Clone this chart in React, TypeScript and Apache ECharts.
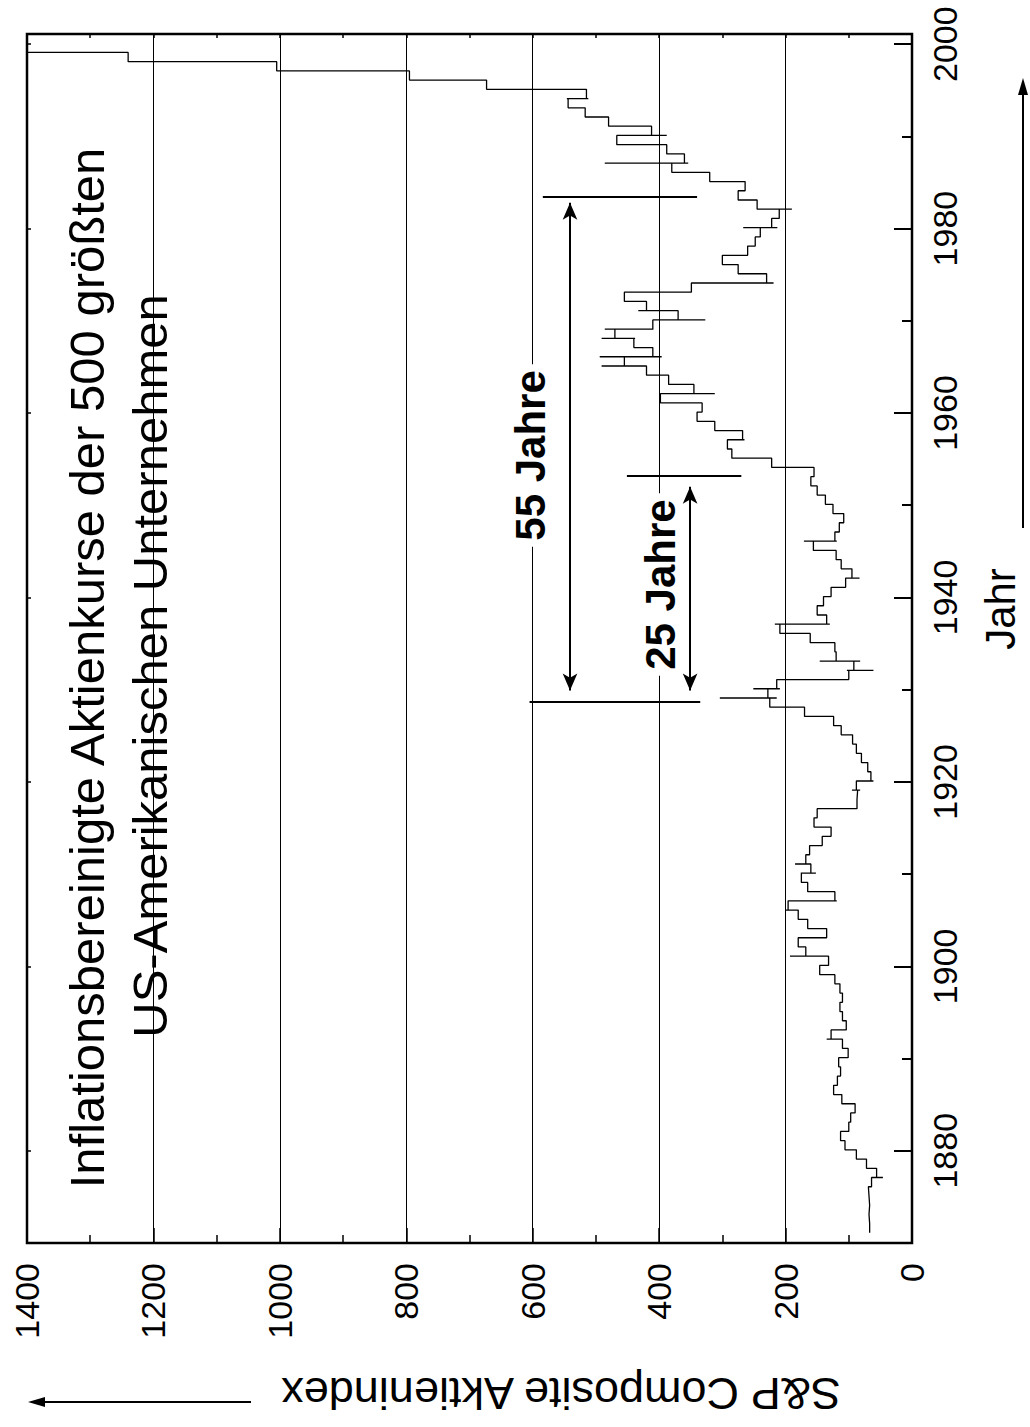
import React, { useEffect, useRef } from "react";
import * as echarts from "echarts";

const FONT = "'Liberation Sans', Arial, Helvetica, sans-serif";

// Inflation-adjusted S&P composite, one level per year (1871 … 1999)
const FIRST_YEAR = 1871;
const realIndex = [
  67, 68, 67, 68, 69, 64, 56, 72, 88, 106, // 1871-1880
  113, 100, 97, 90, 111, 124, 118, 113, 116, 101, // 1881-1890
  110, 128, 104, 110, 114, 110, 114, 122, 146, 132, // 1891-1900
  168, 180, 135, 165, 180, 196, 122, 165, 175, 160, // 1901-1910
  168, 162, 142, 128, 155, 150, 87, 86, 88, 65, // 1911-1920
  70, 80, 88, 94, 112, 124, 170, 225, 228, 214, // 1921-1930
  100, 92, 120, 122, 161, 209, 135, 150, 140, 128, // 1931-1940
  105, 95, 112, 120, 156, 122, 115, 108, 125, 137, // 1941-1950
  150, 160, 155, 222, 285, 292, 268, 312, 340, 332, // 1951-1960
  398, 345, 385, 420, 455, 410, 440, 470, 410, 370, // 1961-1970
  420, 455, 349, 230, 275, 300, 260, 248, 240, 222, // 1971-1980
  210, 245, 275, 264, 320, 380, 360, 388, 467, 412, // 1981-1990
  480, 517, 544, 515, 673, 795, 1005, 1240, 1420, // 1991-1999
];

// yearly extreme swings (short horizontal strokes)
const spikeYears = [1877, 1892, 1901, 1906, 1907, 1910, 1911, 1919, 1920, 1929, 1930, 1932, 1933, 1937, 1942, 1946, 1957, 1962, 1965, 1966, 1968, 1969, 1970, 1971, 1974, 1980, 1982, 1987, 1990, 1994];
const spikeLow = [46, 124, 165, 188, 119, 152, 159, 82, 61, 214, 209, 61, 82, 130, 83, 119, 265, 312, 454, 396, 438, 409, 327, 383, 219, 213, 190, 354, 388, 512];
const spikeHigh = [58, 135, 193, 200, 185, 176, 185, 95, 82, 304, 251, 103, 146, 217, 104, 171, 289, 349, 491, 494, 491, 486, 410, 433, 349, 267, 240, 486, 467, 546];

// axes
const VALUE_MIN = 0;
const VALUE_MAX = 1400;
const VALUE_STEP = 200;
const YEAR_MIN = 1870;
const YEAR_MAX = 2001.1;
const yearLabelTicks = [1880, 1900, 1920, 1940, 1960, 1980, 2000];
const yearMinorTicks = [1890, 1910, 1930, 1950, 1970, 1990];

// period annotations
const periodLineYears = [1983.5, 1953.2, 1928.7];
const periodLineFrom = [340, 270, 335];
const periodLineTo = [584, 451, 605];
const arrowValues = [541, 351];
const arrowStart = [1929.9, 1929.9];
const arrowEnd = [1982.8, 1952.0];
const periodLabels = ["55 Jahre", "25 Jahre"];
const periodLabelValues = [604, 398];
const periodLabelYears = [1955.4, 1941.4];

const titleLines = [
  "Inflationsbereinigte Aktienkurse der 500 größten",
  "US-Amerikanischen Unternehmen",
];
const valueAxisName = "S&P Composite Aktienindex";
const yearAxisName = "Jahr";

function buildPath(): number[][] {
  const pts: number[][] = [];
  realIndex.forEach((v, i) => {
    const t = FIRST_YEAR + i + 0.1;
    if (i === 0) {
      pts.push([v, t]);
      return;
    }
    pts.push([realIndex[i - 1], t]);
    const s = spikeYears.indexOf(FIRST_YEAR + i);
    if (s >= 0) {
      pts.push([spikeLow[s], t]);
      pts.push([spikeHigh[s], t]);
    }
    pts.push([v, t]);
  });
  return pts;
}

export default function App() {
  const ref = useRef<HTMLDivElement>(null);

  useEffect(() => {
    if (!ref.current) return;
    const chart = echarts.init(ref.current, null, { renderer: "svg" });
    const black = "#000";
    const plain = (v: number) => String(v);

    const markLineData: any[] = [];
    periodLineYears.forEach((y, i) => {
      markLineData.push([
        { coord: [periodLineFrom[i], y], symbol: "none" },
        { coord: [periodLineTo[i], y], symbol: "none" },
      ]);
    });
    arrowValues.forEach((v, i) => {
      markLineData.push([
        { coord: [v, arrowStart[i]], symbol: "arrow" },
        { coord: [v, arrowEnd[i]], symbol: "arrow" },
      ]);
    });

    const option: any = {
      animation: false,
      backgroundColor: "#fff",
      grid: {
        left: 27,
        right: 118,
        top: 34,
        bottom: 184,
        show: true,
        borderColor: black,
        borderWidth: 2.5,
        backgroundColor: "transparent",
      },
      xAxis: [
        {
          type: "value",
          min: VALUE_MIN,
          max: VALUE_MAX,
          interval: VALUE_STEP,
          inverse: true,
          position: "bottom",
          axisLine: { show: false },
          axisTick: { show: true, inside: true, length: 15, lineStyle: { color: black, width: 1.5 } },
          minorTick: { show: true, splitNumber: 2, length: 8, lineStyle: { color: black, width: 1.5 } },
          axisLabel: { rotate: 90, margin: 20, fontSize: 34, color: black, fontFamily: FONT, formatter: plain },
          splitLine: { show: true, lineStyle: { color: black, width: 1 } },
        },
        {
          type: "value",
          min: VALUE_MIN,
          max: VALUE_MAX,
          interval: VALUE_STEP,
          inverse: true,
          position: "top",
          axisLine: { show: false },
          axisTick: { show: true, inside: true, length: 4, lineStyle: { color: black, width: 1.5 } },
          minorTick: { show: true, splitNumber: 2, length: 4, lineStyle: { color: black, width: 1.5 } },
          axisLabel: { show: false },
          splitLine: { show: false },
        },
      ],
      yAxis: [
        {
          type: "value",
          min: YEAR_MIN,
          max: YEAR_MAX,
          position: "right",
          axisLine: { show: false },
          axisTick: {
            show: true,
            inside: true,
            length: 18,
            customValues: yearLabelTicks,
            lineStyle: { color: black, width: 2 },
          },
          axisLabel: {
            customValues: yearLabelTicks,
            rotate: 90,
            margin: 16,
            fontSize: 34,
            color: black,
            fontFamily: FONT,
            formatter: plain,
          },
          splitLine: { show: false },
        },
        {
          type: "value",
          min: YEAR_MIN,
          max: YEAR_MAX,
          position: "right",
          axisLine: { show: false },
          axisTick: {
            show: true,
            inside: true,
            length: 10,
            customValues: yearMinorTicks,
            lineStyle: { color: black, width: 2 },
          },
          axisLabel: { show: false },
          splitLine: { show: false },
        },
        {
          type: "value",
          min: YEAR_MIN,
          max: YEAR_MAX,
          position: "left",
          axisLine: { show: false },
          axisTick: {
            show: true,
            inside: true,
            length: 4,
            customValues: yearLabelTicks,
            lineStyle: { color: black, width: 1.5 },
          },
          axisLabel: { show: false },
          splitLine: { show: false },
        },
      ],
      series: [
        {
          type: "line",
          xAxisIndex: 0,
          yAxisIndex: 0,
          data: buildPath(),
          showSymbol: false,
          symbol: "none",
          clip: true,
          lineStyle: { color: black, width: 1.3 },
          silent: true,
        },
        {
          type: "line",
          xAxisIndex: 0,
          yAxisIndex: 0,
          data: [[VALUE_MIN, YEAR_MIN]],
          showSymbol: false,
          symbol: "none",
          lineStyle: { opacity: 0 },
          silent: true,
          markLine: {
            silent: true,
            symbol: ["none", "none"],
            symbolSize: [11, 17],
            label: { show: false },
            lineStyle: { color: black, width: 2, type: "solid" },
            itemStyle: { color: black },
            data: markLineData,
          },
        },
      ],
    };

    chart.setOption(option);

    const px = (v: number, y: number) =>
      chart.convertToPixel({ xAxisIndex: 0, yAxisIndex: 0 }, [v, y]) as number[];

    const graphics: any[] = [];
    periodLabels.forEach((txt, i) => {
      const p = px(periodLabelValues[i], periodLabelYears[i]);
      graphics.push({
        type: "text",
        x: p[0],
        y: p[1],
        rotation: Math.PI / 2,
        z: 100,
        style: {
          text: txt,
          fontSize: 42,
          fontWeight: "bold",
          fontFamily: FONT,
          fill: black,
          align: "center",
          verticalAlign: "middle",
          backgroundColor: "#fff",
          padding: [0, 6],
        },
      });
    });
    graphics.push(
      {
        type: "text",
        x: 87,
        y: 668,
        rotation: Math.PI / 2,
        z: 100,
        style: { text: titleLines[0], fontSize: 49, fontFamily: FONT, fill: black, align: "center", verticalAlign: "middle" },
      },
      {
        type: "text",
        x: 150,
        y: 666,
        rotation: Math.PI / 2,
        z: 100,
        style: { text: titleLines[1], fontSize: 49, fontFamily: FONT, fill: black, align: "center", verticalAlign: "middle" },
      },
      {
        type: "text",
        x: 1000,
        y: 609,
        rotation: Math.PI / 2,
        style: { text: yearAxisName, fontSize: 42, fontFamily: FONT, fill: black, align: "center", verticalAlign: "middle" },
      },
      {
        type: "text",
        x: 561,
        y: 1393,
        rotation: Math.PI,
        style: { text: valueAxisName, fontSize: 45, fontFamily: FONT, fill: black, align: "center", verticalAlign: "middle" },
      },
      {
        type: "line",
        shape: { x1: 1023, y1: 528, x2: 1023, y2: 92 },
        style: { stroke: black, lineWidth: 2 },
      },
      {
        type: "polygon",
        shape: { points: [[1023, 78], [1018, 95], [1028, 95]] },
        style: { fill: black },
      },
      {
        type: "line",
        shape: { x1: 251, y1: 1402, x2: 40, y2: 1402 },
        style: { stroke: black, lineWidth: 2 },
      },
      {
        type: "polygon",
        shape: { points: [[28, 1402], [45, 1397], [45, 1407]] },
        style: { fill: black },
      }
    );
    chart.setOption({ graphic: graphics });

    return () => chart.dispose();
  }, []);

  return (
    <div
      ref={ref}
      style={{ position: "absolute", left: 0, top: 0, width: 1030, height: 1427, background: "#fff" }}
    />
  );
}
